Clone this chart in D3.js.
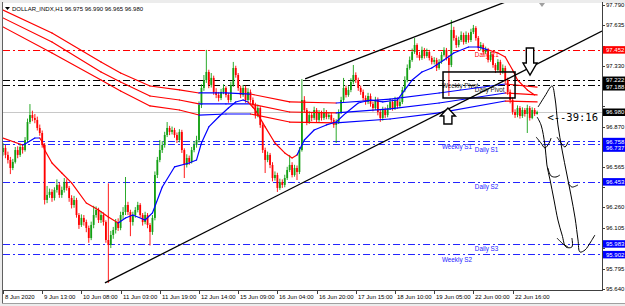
<!DOCTYPE html>
<html>
<head>
<meta charset="utf-8">
<script src="https://cdn.jsdelivr.net/npm/d3@7"></script>
<style>
body { margin: 0; background: #fff; }
svg { display: block; font-family: "Liberation Sans", Arial, sans-serif; }
</style>
</head>
<body>
<div id="chart"></div>
<script>
// ---------- data ----------
var symbolTitle = "DOLLAR_INDX,H1  96.975 96.990 96.965 96.980";
var firstOpen = 96.677;
var closes = [
  96.708, 96.655, 96.617, 96.556, 96.602, 96.692, 96.655, 96.715, 96.692, 96.768,
  96.904, 96.957, 96.935, 96.920, 96.859, 96.821, 96.730, 96.314, 96.352, 96.375,
  96.329, 96.390, 96.428, 96.352, 96.390, 96.450, 96.405, 96.329, 96.276, 96.314,
  96.200, 96.125, 96.178, 96.147, 96.102, 96.026, 96.125, 96.200, 96.238, 96.162,
  96.200, 96.147, 96.011, 95.973, 96.049, 96.087, 96.147, 96.102, 96.200, 96.223,
  96.276, 96.223, 96.147, 96.200, 96.238, 96.276, 96.200, 96.147, 96.200, 96.125,
  96.072, 96.178, 96.503, 96.617, 96.692, 96.730, 96.806, 96.859, 96.829, 96.844,
  96.806, 96.768, 96.829, 96.692, 96.579, 96.632, 96.602, 96.692, 96.730, 96.768,
  97.033, 97.162, 97.222, 97.283, 97.185, 97.238, 97.132, 97.109, 97.086, 97.132,
  97.162, 97.109, 97.071, 97.185, 97.313, 97.260, 97.162, 97.109, 97.162, 97.071,
  97.132, 97.071, 97.033, 96.957, 97.010, 96.882, 96.692, 96.617, 96.655, 96.579,
  96.480, 96.503, 96.405, 96.450, 96.428, 96.480, 96.541, 96.579, 96.503, 96.556,
  96.526, 96.692, 97.071, 96.995, 96.904, 96.957, 96.935, 96.995, 96.920, 96.973,
  96.935, 96.980, 96.942, 96.957, 96.920, 96.882, 96.904, 96.980, 97.071, 97.162,
  97.109, 97.147, 97.207, 97.260, 97.222, 97.162, 97.132, 97.086, 97.056, 97.101,
  97.041, 97.010, 97.071, 96.980, 96.935, 96.995, 96.957, 97.010, 97.056, 97.010,
  97.071, 97.026, 97.056, 97.147, 97.222, 97.313, 97.374, 97.434, 97.487, 97.412,
  97.389, 97.450, 97.404, 97.434, 97.389, 97.359, 97.374, 97.313, 97.359, 97.412,
  97.450, 97.389, 97.336, 97.601, 97.540, 97.487, 97.525, 97.563, 97.510, 97.563,
  97.525, 97.586, 97.616, 97.540, 97.465, 97.487, 97.434, 97.450, 97.374, 97.412,
  97.336, 97.298, 97.359, 97.283, 97.313, 97.222, 97.132, 97.071, 96.980, 96.957,
  97.010, 96.950, 96.995, 96.965, 97.010, 96.935, 96.995, 96.965, 96.980
];
var highs = [
  96.745, 96.730, 96.680, 96.640, 96.625, 96.715, 96.720, 96.740, 96.735, 96.790,
  96.930, 97.040, 96.990, 96.965, 96.945, 96.885, 96.840, 96.745, 96.420, 96.400,
  96.395, 96.410, 96.470, 96.445, 96.415, 96.480, 96.470, 96.420, 96.350, 96.345,
  96.330, 96.215, 96.205, 96.200, 96.165, 96.120, 96.150, 96.270, 96.265, 96.255,
  96.230, 96.220, 96.160, 96.440, 96.080, 96.110, 96.170, 96.175, 96.225, 96.260,
  96.488, 96.300, 96.240, 96.225, 96.260, 96.300, 96.290, 96.215, 96.225, 96.215,
  96.140, 96.200, 96.530, 96.640, 96.768, 96.760, 96.830, 96.904, 96.875, 96.870,
  96.860, 96.825, 96.850, 96.845, 96.705, 96.660, 96.650, 96.715, 96.760, 96.800,
  97.060, 97.190, 97.260, 97.450, 97.300, 97.275, 97.255, 97.160, 97.130, 97.155,
  97.190, 97.175, 97.125, 97.210, 97.359, 97.330, 97.275, 97.180, 97.185, 97.180,
  97.160, 97.150, 97.090, 97.050, 97.035, 97.025, 96.900, 96.710, 96.680, 96.670,
  96.600, 96.530, 96.520, 96.475, 96.470, 96.505, 96.565, 96.655, 96.600, 96.580,
  96.575, 96.715, 97.230, 97.100, 97.010, 96.985, 96.975, 97.020, 97.010, 96.995,
  96.990, 97.010, 96.995, 96.980, 96.975, 96.935, 96.925, 97.000, 97.095, 97.238,
  97.180, 97.175, 97.235, 97.336, 97.280, 97.240, 97.180, 97.150, 97.105, 97.125,
  97.120, 97.060, 97.095, 97.090, 96.995, 97.020, 97.015, 97.035, 97.080, 97.075,
  97.095, 97.090, 97.080, 97.170, 97.250, 97.340, 97.400, 97.460, 97.540, 97.500,
  97.435, 97.475, 97.465, 97.460, 97.450, 97.405, 97.395, 97.390, 97.380, 97.435,
  97.470, 97.465, 97.410, 97.677, 97.625, 97.560, 97.550, 97.590, 97.580, 97.590,
  97.580, 97.610, 97.639, 97.630, 97.555, 97.510, 97.500, 97.475, 97.465, 97.435,
  97.425, 97.350, 97.380, 97.375, 97.340, 97.330, 97.240, 97.150, 97.090, 97.000,
  97.030, 97.025, 97.015, 97.010, 97.035, 97.025, 97.015, 97.010, 96.990
];
var lows = [
  96.650, 96.630, 96.590, 96.510, 96.540, 96.590, 96.630, 96.640, 96.665, 96.680,
  96.750, 96.890, 96.910, 96.895, 96.840, 96.800, 96.710, 96.280, 96.290, 96.330,
  96.300, 96.310, 96.370, 96.330, 96.330, 96.370, 96.385, 96.300, 96.250, 96.255,
  96.180, 96.095, 96.110, 96.120, 96.070, 95.990, 96.010, 96.100, 96.180, 96.140,
  96.140, 96.120, 95.990, 95.686, 95.950, 96.020, 96.060, 96.080, 96.085, 96.170,
  96.200, 96.200, 96.040, 96.120, 96.180, 96.220, 96.180, 96.120, 96.130, 96.100,
  95.970, 96.050, 96.160, 96.480, 96.600, 96.670, 96.710, 96.790, 96.805, 96.810,
  96.785, 96.745, 96.750, 96.670, 96.480, 96.560, 96.580, 96.590, 96.675, 96.710,
  96.750, 97.010, 97.140, 97.200, 97.160, 97.165, 97.110, 97.085, 97.060, 97.070,
  97.115, 97.090, 97.050, 97.055, 97.170, 97.240, 97.140, 97.085, 97.095, 97.050,
  97.060, 97.050, 97.010, 96.930, 96.940, 96.860, 96.670, 96.518, 96.600, 96.555,
  96.455, 96.460, 96.375, 96.390, 96.405, 96.410, 96.465, 96.525, 96.485, 96.490,
  96.465, 96.510, 96.680, 96.975, 96.880, 96.890, 96.910, 96.920, 96.900, 96.905,
  96.915, 96.920, 96.925, 96.925, 96.900, 96.860, 96.745, 96.890, 96.965, 97.050,
  97.090, 97.095, 97.130, 97.190, 97.200, 97.140, 97.110, 97.065, 97.035, 97.040,
  97.020, 96.985, 96.995, 96.955, 96.905, 96.915, 96.935, 96.940, 96.995, 96.990,
  96.995, 97.005, 97.010, 97.040, 97.130, 97.205, 97.300, 97.360, 97.420, 97.390,
  97.370, 97.375, 97.385, 97.390, 97.370, 97.340, 97.340, 97.290, 97.300, 97.345,
  97.400, 97.370, 97.101, 97.320, 97.520, 97.465, 97.470, 97.510, 97.490, 97.495,
  97.505, 97.510, 97.570, 97.520, 97.445, 97.445, 97.415, 97.420, 97.355, 97.360,
  97.315, 97.275, 97.285, 97.260, 97.270, 97.200, 97.110, 97.045, 96.960, 96.935,
  96.940, 96.930, 96.935, 96.945, 96.821, 96.915, 96.925, 96.950, 96.960
];

// time labels, one every 16 bars
var timeLabels = ["8 Jun 2020", "9 Jun 13:00", "10 Jun 08:00", "11 Jun 03:00", "11 Jun 19:00",
  "12 Jun 14:00", "15 Jun 09:00", "16 Jun 04:00", "16 Jun 20:00", "17 Jun 15:00",
  "18 Jun 10:00", "19 Jun 05:00", "22 Jun 00:00", "22 Jun 16:00"];
var labelEvery = 16;
var priceTicks = ["97.790", "97.635", "97.480", "97.330", "97.175", "97.025", "96.870", "96.715",
  "96.565", "96.410", "96.260", "96.105", "95.950", "95.795", "95.640"];

// pivot levels
var levelNames = ["Daily R1", "Weekly Pivot", "Daily Pivot", "Weekly S1", "Daily S1", "Daily S2", "Daily S3", "Weekly S2"];
var levelValues = [97.452, 97.222, 97.188, 96.758, 96.737, 96.453, 95.983, 95.902];
var bidPrice = 96.980;
var countdown = "<--39:16";

// fast moving average (bar index, value, rising?)
var fastIdx = [0, 8, 9, 13, 15, 16, 17, 20, 24, 28, 34, 39, 43, 47, 50, 53, 58, 61, 65, 70, 76, 79, 81, 84, 88,
  92, 95, 98, 100, 103, 107, 111, 115, 118, 120, 123, 127, 132, 136, 140, 145, 150, 155, 161, 164, 167, 171,
  175, 180, 184, 190, 194, 198, 202, 205, 208, 210, 214, 217];
var fastVal = [96.783, 96.730, 96.738, 96.783, 96.783, 96.753, 96.692, 96.594, 96.518, 96.443, 96.291, 96.238,
  96.185, 96.140, 96.178, 96.200, 96.162, 96.216, 96.412, 96.564, 96.594, 96.617, 96.745, 96.867, 96.942,
  97.010, 97.056, 97.071, 97.056, 96.995, 96.867, 96.745, 96.670, 96.632, 96.655, 96.768, 96.844, 96.882,
  96.904, 96.973, 97.048, 97.071, 97.056, 97.071, 97.147, 97.222, 97.283, 97.313, 97.374, 97.427, 97.472,
  97.472, 97.450, 97.427, 97.396, 97.298, 97.222, 97.147, 97.109];
var fastRising = [0, 1, 1, 1, 0, 0, 0, 0, 0, 0, 0, 0, 0, 1, 1, 1, 1, 1, 1, 1, 1, 1, 1, 1, 1,
  1, 1, 1, 0, 0, 0, 0, 0, 0, 1, 1, 1, 1, 1, 1, 1, 1, 1, 1, 1, 1, 1,
  1, 1, 1, 1, 1, 0, 0, 0, 0, 0, 0, 0];

// slow moving average band
var bandIdx = [0, 20, 40, 48, 60, 72, 80, 91, 101, 117, 136, 158, 178, 205, 218];
var bandUpper = [97.752, 97.578, 97.359, 97.275, 97.177, 97.147, 97.124, 97.124, 97.116, 97.056, 97.048, 97.078, 97.124, 97.192, 97.169];
var bandMid = [97.692, 97.510, 97.283, 97.207, 97.101, 97.071, 97.041, 97.041, 97.041, 96.980, 96.973, 97.003, 97.048, 97.124, 97.109];
var bandLower = [97.624, 97.427, 97.222, 97.139, 97.026, 96.995, 96.957, 96.965, 96.965, 96.904, 96.897, 96.927, 96.973, 97.063, 97.056];
var bandRising = [0, 0, 0, 0, 0, 0, 1, 1, 0, 0, 1, 1, 1, 0, 0];

// drawn objects: trend lines [bar1, price1, bar2, price2]
var trendLines = [[41.6, 95.686, 244.5, 97.593], [123.3, 97.230, 212, 97.862]];
var boxBars = [179.6, 209];
var boxPrices = [97.283, 97.086];
var downArrow = [215.1, 97.260];
var upArrow = [181.6, 97.010];

// hand drawn strokes
var strokes = [
  [[218.4, 97.018], [221.2, 97.101], [224.1, 97.177], [225.3, 97.086], [226.5, 96.882], [228.2, 96.692], [230.2, 96.503],
   [231.8, 96.352], [233.5, 96.178], [234.7, 96.011], [235.5, 95.920], [237.6, 95.936], [239.6, 95.988], [241.6, 96.049]],
  [[218.0, 96.942], [219.6, 96.882], [221.2, 96.730], [222.0, 96.579], [223.3, 96.465], [224.9, 96.314], [226.5, 96.162],
   [228.2, 96.049], [229.8, 95.958], [232.2, 95.958], [232.2, 96.026]],
  [[217.6, 96.791], [219.6, 96.745], [221.2, 96.708], [222.9, 96.745], [223.7, 96.783]],
  [[226.1, 96.791], [227.8, 96.745], [229.4, 96.715], [230.6, 96.753]],
  [[222.4, 96.556], [223.7, 96.496], [225.7, 96.488], [227.3, 96.503]],
  [[230.6, 96.443], [232.2, 96.412], [234.7, 96.428]],
  [[226.1, 96.026], [228.6, 95.981], [230.6, 95.958]]
];

// ---------- layout ----------
var W = 625, H = 306;
var plot = { left: 3, top: 3, right: 602, bottom: 290 };
var bullColor = "#14a014", bearColor = "#ff0000";
var maUp = "#0000ff", maDown = "#ff0000";

var svg = d3.select("#chart")
    .append("svg")
    .attr("width", W)
    .attr("height", H);

// window frame
svg.append("rect").attr("width", W).attr("height", H).attr("fill", "#ececec");
svg.append("rect").attr("x", 3).attr("y", 3).attr("width", W - 3).attr("height", 300).attr("fill", "#fff");
svg.append("line").attr("x1", 2.5).attr("x2", 2.5).attr("y1", 2).attr("y2", 304).attr("stroke", "#606060");
svg.append("line").attr("x1", 2).attr("x2", W).attr("y1", 303.5).attr("y2", 303.5).attr("stroke", "#a0a0a0");

var x = d3.scaleLinear().domain([0, 244]).range([3, 600.8]);
var y = d3.scaleLinear().domain([95.640, 97.790]).range([289, 5]);

svg.append("clipPath").attr("id", "clip")
    .append("rect")
    .attr("x", plot.left).attr("y", plot.top)
    .attr("width", plot.right - plot.left).attr("height", plot.bottom - plot.top);

var chart = svg.append("g").attr("clip-path", "url(#clip)");

function levelColor(name) {
    if (name.indexOf("Pivot") >= 0) return "#000";
    if (name.indexOf(" R") >= 0) return "#ff0000";
    return "#2424ff";
}

// pivot level lines
chart.selectAll(".level")
    .data(levelValues)
    .enter()
    .append("line")
    .attr("x1", plot.left).attr("x2", plot.right)
    .attr("y1", function (d) { return Math.round(y(d)) + 0.5; })
    .attr("y2", function (d) { return Math.round(y(d)) + 0.5; })
    .attr("stroke", function (d, i) { return levelColor(levelNames[i]); })
    .attr("stroke-width", 1)
    .attr("stroke-dasharray", "7,3,2,3");

// bid line
chart.append("line")
    .attr("x1", plot.left).attr("x2", plot.right)
    .attr("y1", Math.round(y(bidPrice)) + 0.5).attr("y2", Math.round(y(bidPrice)) + 0.5)
    .attr("stroke", "#c8c8c8");

// level texts (weekly ones start a little further left)
var weeklyTextBar = 179.2, dailyTextBar = 192.6;
chart.selectAll(".levelText")
    .data(levelValues)
    .enter()
    .append("text")
    .attr("x", function (d, i) { return x(levelNames[i].indexOf("Weekly") == 0 ? weeklyTextBar : dailyTextBar); })
    .attr("y", function (d) { return y(d) + 7.5; })
    .attr("font-size", "6.3px")
    .attr("fill", function (d, i) { return levelColor(levelNames[i]) == "#000" ? "#202020" : levelColor(levelNames[i]); })
    .text(function (d, i) { return levelNames[i]; });

// candles
var bars = closes.map(function (c, i) {
    return { i: i, o: i ? closes[i - 1] : firstOpen, c: c, h: highs[i], l: lows[i] };
});
var candle = chart.selectAll(".bar")
    .data(bars)
    .enter()
    .append("g");
candle.append("line")
    .attr("x1", function (d) { return x(d.i); })
    .attr("x2", function (d) { return x(d.i); })
    .attr("y1", function (d) { return y(d.h); })
    .attr("y2", function (d) { return y(d.l); })
    .attr("stroke", function (d) { return d.c >= d.o ? bullColor : bearColor; })
    .attr("stroke-width", 0.9);
candle.append("rect")
    .attr("x", function (d) { return x(d.i) - 0.9; })
    .attr("width", 1.8)
    .attr("y", function (d) { return y(Math.max(d.o, d.c)); })
    .attr("height", function (d) { return Math.max(1, Math.abs(y(d.o) - y(d.c))); })
    .attr("fill", function (d) { return d.c >= d.o ? bullColor : bearColor; });

// moving averages, coloured segment by segment
var seg = d3.line()
    .x(function (d) { return x(d[0]); })
    .y(function (d) { return y(d[1]); });

function drawColoredLine(idx, vals, rising) {
    for (var k = 0; k < idx.length - 1; k++) {
        chart.append("path")
            .attr("d", seg([[idx[k], vals[k]], [idx[k + 1], vals[k + 1]]]))
            .attr("fill", "none")
            .attr("stroke", rising[k] ? maUp : maDown)
            .attr("stroke-width", 1.2)
            .attr("stroke-linecap", "round");
    }
}
drawColoredLine(bandIdx, bandUpper, bandRising);
drawColoredLine(bandIdx, bandMid, bandRising);
drawColoredLine(bandIdx, bandLower, bandRising);
drawColoredLine(fastIdx, fastVal, fastRising);

// trend lines
chart.selectAll(".trend")
    .data(trendLines)
    .enter()
    .append("line")
    .attr("x1", function (d) { return x(d[0]); })
    .attr("y1", function (d) { return y(d[1]); })
    .attr("x2", function (d) { return x(d[2]); })
    .attr("y2", function (d) { return y(d[3]); })
    .attr("stroke", "#000")
    .attr("stroke-width", 1.3);

// pivot box
chart.append("rect")
    .attr("x", x(boxBars[0])).attr("y", y(boxPrices[0]))
    .attr("width", x(boxBars[1]) - x(boxBars[0]))
    .attr("height", y(boxPrices[1]) - y(boxPrices[0]))
    .attr("fill", "none").attr("stroke", "#000").attr("stroke-width", 1.5);

// hollow arrows
var downShape = [[-3.7, -27], [3.7, -27], [3.7, -12], [7, -12], [0, 0], [-7, -12], [-3.7, -12]];
var upShape = [[0, 0], [7.5, 8], [4, 8], [4, 16], [-4, 16], [-4, 8], [-7.5, 8]];
function drawArrow(at, shape) {
    var px = x(at[0]), py = y(at[1]);
    chart.append("path")
        .attr("d", "M" + shape.map(function (p) { return (px + p[0]) + "," + (py + p[1]); }).join("L") + "Z")
        .attr("fill", "#fff").attr("stroke", "#000").attr("stroke-width", 1.4);
}
drawArrow(downArrow, downShape);
drawArrow(upArrow, upShape);

// hand drawn strokes
var pen = d3.line()
    .x(function (d) { return x(d[0]); })
    .y(function (d) { return y(d[1]); })
    .curve(d3.curveCatmullRom);
chart.selectAll(".stroke")
    .data(strokes)
    .enter()
    .append("path")
    .attr("d", pen)
    .attr("fill", "none")
    .attr("stroke", "#000")
    .attr("stroke-width", 1);

// countdown text
chart.append("text")
    .attr("x", x(222.2)).attr("y", y(bidPrice) + 9.5)
    .attr("font-family", "'DejaVu Sans Mono', monospace")
    .attr("font-size", "10.5px")
    .attr("fill", "#000")
    .text(countdown);

// chart shift marker
svg.append("path")
    .attr("d", "M" + (x(220) - 3) + ",3L" + (x(220) + 3) + ",3L" + x(220) + ",7Z")
    .attr("fill", "#a0a0a0");

// title
svg.append("path").attr("d", "M5,7L10,7L7.5,10Z").attr("fill", "#000");
svg.append("text")
    .attr("x", 12).attr("y", 11)
    .attr("font-size", "6px")
    .attr("fill", "#000")
    .text(symbolTitle);

// price axis
svg.append("line")
    .attr("x1", plot.right + 0.5).attr("x2", plot.right + 0.5)
    .attr("y1", 2).attr("y2", plot.bottom + 1)
    .attr("stroke", "#404040");
svg.append("line")
    .attr("x1", plot.left).attr("x2", plot.right + 1)
    .attr("y1", plot.bottom + 0.5).attr("y2", plot.bottom + 0.5)
    .attr("stroke", "#404040");

// coloured price tags, nudged apart so their texts do not collide
var tags = levelValues.map(function (v, i) { return { v: v, c: levelColor(levelNames[i]) }; });
tags.push({ v: bidPrice, c: "#000" });
tags.forEach(function (t) { t.ty = y(t.v); });
tags.sort(function (a, b) { return a.ty - b.ty; });
for (var k = 1; k < tags.length; k++) {
    if (tags[k].ty - tags[k - 1].ty < 6.5) tags[k].ty = tags[k - 1].ty + 6.5;
}

var pTick = svg.selectAll(".ptick")
    .data(priceTicks)
    .enter()
    .append("g")
    .attr("transform", function (d) { return "translate(0," + Math.round(y(+d)) + ")"; });
pTick.append("line")
    .attr("x1", plot.right).attr("x2", plot.right + 3)
    .attr("y1", 0.5).attr("y2", 0.5)
    .attr("stroke", "#404040");
pTick.append("text")
    .attr("x", plot.right + 4).attr("y", 2.2)
    .attr("font-size", "6px")
    .attr("fill", "#000")
    .text(function (d) {
        // ticks hidden behind a tag are left out
        var ty = y(+d);
        var hidden = tags.some(function (t) { return Math.abs(t.ty - ty) < 6.5; });
        return hidden ? "" : d;
    });

var tag = svg.selectAll(".tag")
    .data(tags)
    .enter()
    .append("g")
    .attr("transform", function (d) { return "translate(0," + d.ty + ")"; });
tag.append("rect")
    .attr("x", plot.right + 1).attr("y", -3.5)
    .attr("width", W - plot.right).attr("height", 7.5)
    .attr("fill", function (d) { return d.c == "#2424ff" ? "#0000ff" : d.c; });
tag.append("text")
    .attr("x", plot.right + 4).attr("y", 2.2)
    .attr("font-size", "6px")
    .attr("fill", "#fff")
    .text(function (d) { return d3.format(".3f")(d.v); });

// time axis
var tTick = svg.selectAll(".ttick")
    .data(timeLabels)
    .enter()
    .append("g")
    .attr("transform", function (d, i) { return "translate(" + Math.round(x(i * labelEvery)) + ",0)"; });
tTick.append("line")
    .attr("x1", 0.5).attr("x2", 0.5)
    .attr("y1", plot.bottom).attr("y2", plot.bottom + 4)
    .attr("stroke", "#404040");
tTick.append("text")
    .attr("x", 2).attr("y", plot.bottom + 9)
    .attr("font-size", "6px")
    .attr("fill", "#000")
    .text(function (d) { return d; });
</script>
</body>
</html>
